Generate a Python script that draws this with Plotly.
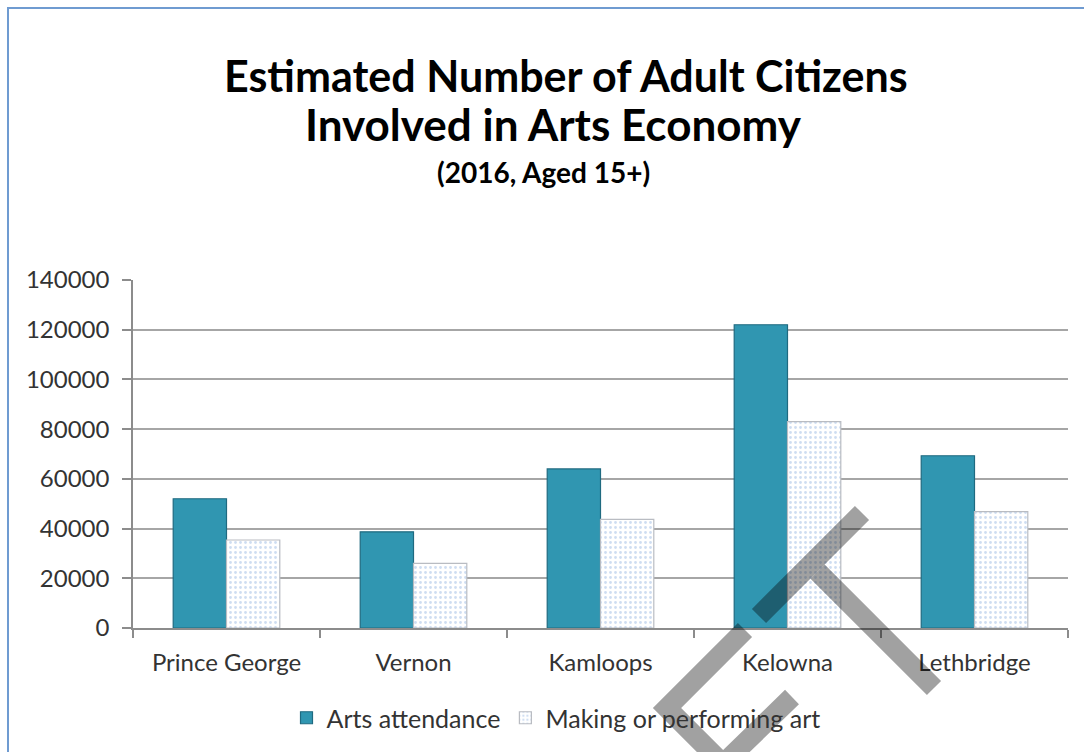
import math
import plotly.graph_objects as go

# Adult citizens involved in the arts economy, 2016, aged 15+
cities = ["Prince George", "Vernon", "Kamloops", "Kelowna", "Lethbridge"]
arts_attendance = [52000, 38700, 64000, 122000, 69300]
making_performing = [35400, 26000, 43700, 83000, 46800]
y_ticks = [0, 20000, 40000, 60000, 80000, 100000, 120000, 140000]

W, H = 1086, 753
L, R, T, B = 133, 18, 280, 125
PW, PH = W - L - R, H - T - B

FONT = "Lato, 'Open Sans', sans-serif"
TEXT = "#333333"
TICK_SIZE = 24


def px(x):
    return (x - L) / PW


def py(y):
    return (H - B - y) / PH


def stroke_outline(points, width):
    """Polygon outlining a thick polyline with mitred corners (pixel coords)."""
    h = width / 2.0
    segs = []
    for (x0, y0), (x1, y1) in zip(points[:-1], points[1:]):
        dx, dy = x1 - x0, y1 - y0
        n = math.hypot(dx, dy)
        segs.append(((x0, y0), (x1, y1), (-dy / n, dx / n)))

    def side(sign):
        pts = []
        for i, (p0, p1, (nx, ny)) in enumerate(segs):
            a0 = (p0[0] + sign * h * nx, p0[1] + sign * h * ny)
            a1 = (p1[0] + sign * h * nx, p1[1] + sign * h * ny)
            if i == 0:
                pts.append(a0)
            if i < len(segs) - 1:
                q0, q1, (mx, my) = segs[i + 1]
                b0 = (q0[0] + sign * h * mx, q0[1] + sign * h * my)
                b1 = (q1[0] + sign * h * mx, q1[1] + sign * h * my)
                d1 = (a1[0] - a0[0], a1[1] - a0[1])
                d2 = (b1[0] - b0[0], b1[1] - b0[1])
                den = d1[0] * d2[1] - d1[1] * d2[0]
                t = ((b0[0] - a0[0]) * d2[1] - (b0[1] - a0[1]) * d2[0]) / den
                pts.append((a0[0] + t * d1[0], a0[1] + t * d1[1]))
            else:
                pts.append(a1)
        return pts

    return side(1) + side(-1)[::-1]


def clip_bottom(poly, ymax):
    """Keep the part of a polygon above the line y = ymax (pixel coords)."""
    out = []
    n = len(poly)
    for i in range(n):
        p, q = poly[i], poly[(i + 1) % n]
        pin, qin = p[1] <= ymax, q[1] <= ymax
        if pin:
            out.append(p)
        if pin != qin:
            t = (ymax - p[1]) / (q[1] - p[1])
            out.append((p[0] + t * (q[0] - p[0]), ymax))
    return out


def to_path(polys):
    out = []
    for poly in polys:
        coords = " L ".join(f"{px(x):.5f},{py(y):.5f}" for x, y in poly)
        out.append(f"M {coords} Z")
    return " ".join(out)


fig = go.Figure()
fig.add_trace(go.Bar(
    x=cities, y=arts_attendance, name="Arts attendance",
    marker=dict(color="#3096b1", line=dict(color="#1f6a80", width=1.2)),
))
fig.add_trace(go.Bar(
    x=cities, y=making_performing, name="Making or performing art",
    marker=dict(
        color="white",
        line=dict(color="#b9bcc2", width=1.2),
        pattern=dict(shape=".", fgcolor="#9dbbe3", bgcolor="white",
                     size=5, solidity=0.25),
    ),
))

# Chart-area frame: top and left edges
shapes = [dict(
    type="path", xref="paper", yref="paper",
    path=f"M {px(W - 2):.5f},{py(8):.5f} L {px(8):.5f},{py(8):.5f} "
         f"L {px(8):.5f},{py(H - 1):.5f}",
    line=dict(color="#6f9bd1", width=2), layer="below",
)]

# "CT" watermark strokes
stroke_w = 20
t_bar = [(759, 616), (862, 513)]
t_stem = [(817.6, 571.6), (934, 688)]
c_curve = [(745, 630), (667, 708), (723, 764), (792, 697)]
wm_polys = [clip_bottom(stroke_outline(s, stroke_w), H - 1)
            for s in (t_bar, t_stem, c_curve)]
shapes.append(dict(
    type="path", xref="paper", yref="paper", path=to_path(wm_polys),
    fillcolor="rgba(0,0,0,0.37)", line=dict(width=0), layer="above",
))

annotations = [
    dict(text="<b>Estimated Number of Adult Citizens</b>", x=px(566), y=py(76),
         font=dict(size=43, color="#000000", family=FONT)),
    dict(text="<b>Involved in Arts Economy</b>", x=px(553), y=py(124),
         font=dict(size=44, color="#000000", family=FONT)),
    dict(text="<b>(2016, Aged 15+)</b>", x=px(543), y=py(172),
         font=dict(size=28, color="#000000", family=FONT)),
]
for a in annotations:
    a.update(xref="paper", yref="paper", xanchor="center", yanchor="middle",
             showarrow=False)

fig.update_layout(
    width=W, height=H,
    margin=dict(l=L, r=R, t=T, b=B, autoexpand=False),
    paper_bgcolor="white", plot_bgcolor="white",
    barmode="group", bargap=0.43, bargroupgap=0.0,
    font=dict(family=FONT, size=TICK_SIZE, color=TEXT),
    showlegend=True,
    legend=dict(
        orientation="h", xanchor="center", yanchor="middle",
        x=px(556), y=py(718), font=dict(size=25, color=TEXT),
        itemwidth=30, bgcolor="rgba(0,0,0,0)",
    ),
    shapes=shapes,
    annotations=annotations,
)
fig.update_xaxes(
    showline=True, linecolor="#8c8c8c", linewidth=1.5,
    ticks="outside", tickson="boundaries", ticklen=8, tickcolor="#8c8c8c",
    tickwidth=1.5, ticklabelstandoff=12, showgrid=False,
)
fig.update_yaxes(
    range=[0, 140000], tickvals=y_ticks, ticktext=[str(v) for v in y_ticks],
    showline=True, linecolor="#8c8c8c", linewidth=1.5,
    ticks="outside", ticklen=9, tickcolor="#8c8c8c", tickwidth=1.5,
    ticklabelstandoff=8,
    showgrid=True, gridcolor="#a6a6a6", gridwidth=1.5, zeroline=False,
)

fig.write_html("out.html")
